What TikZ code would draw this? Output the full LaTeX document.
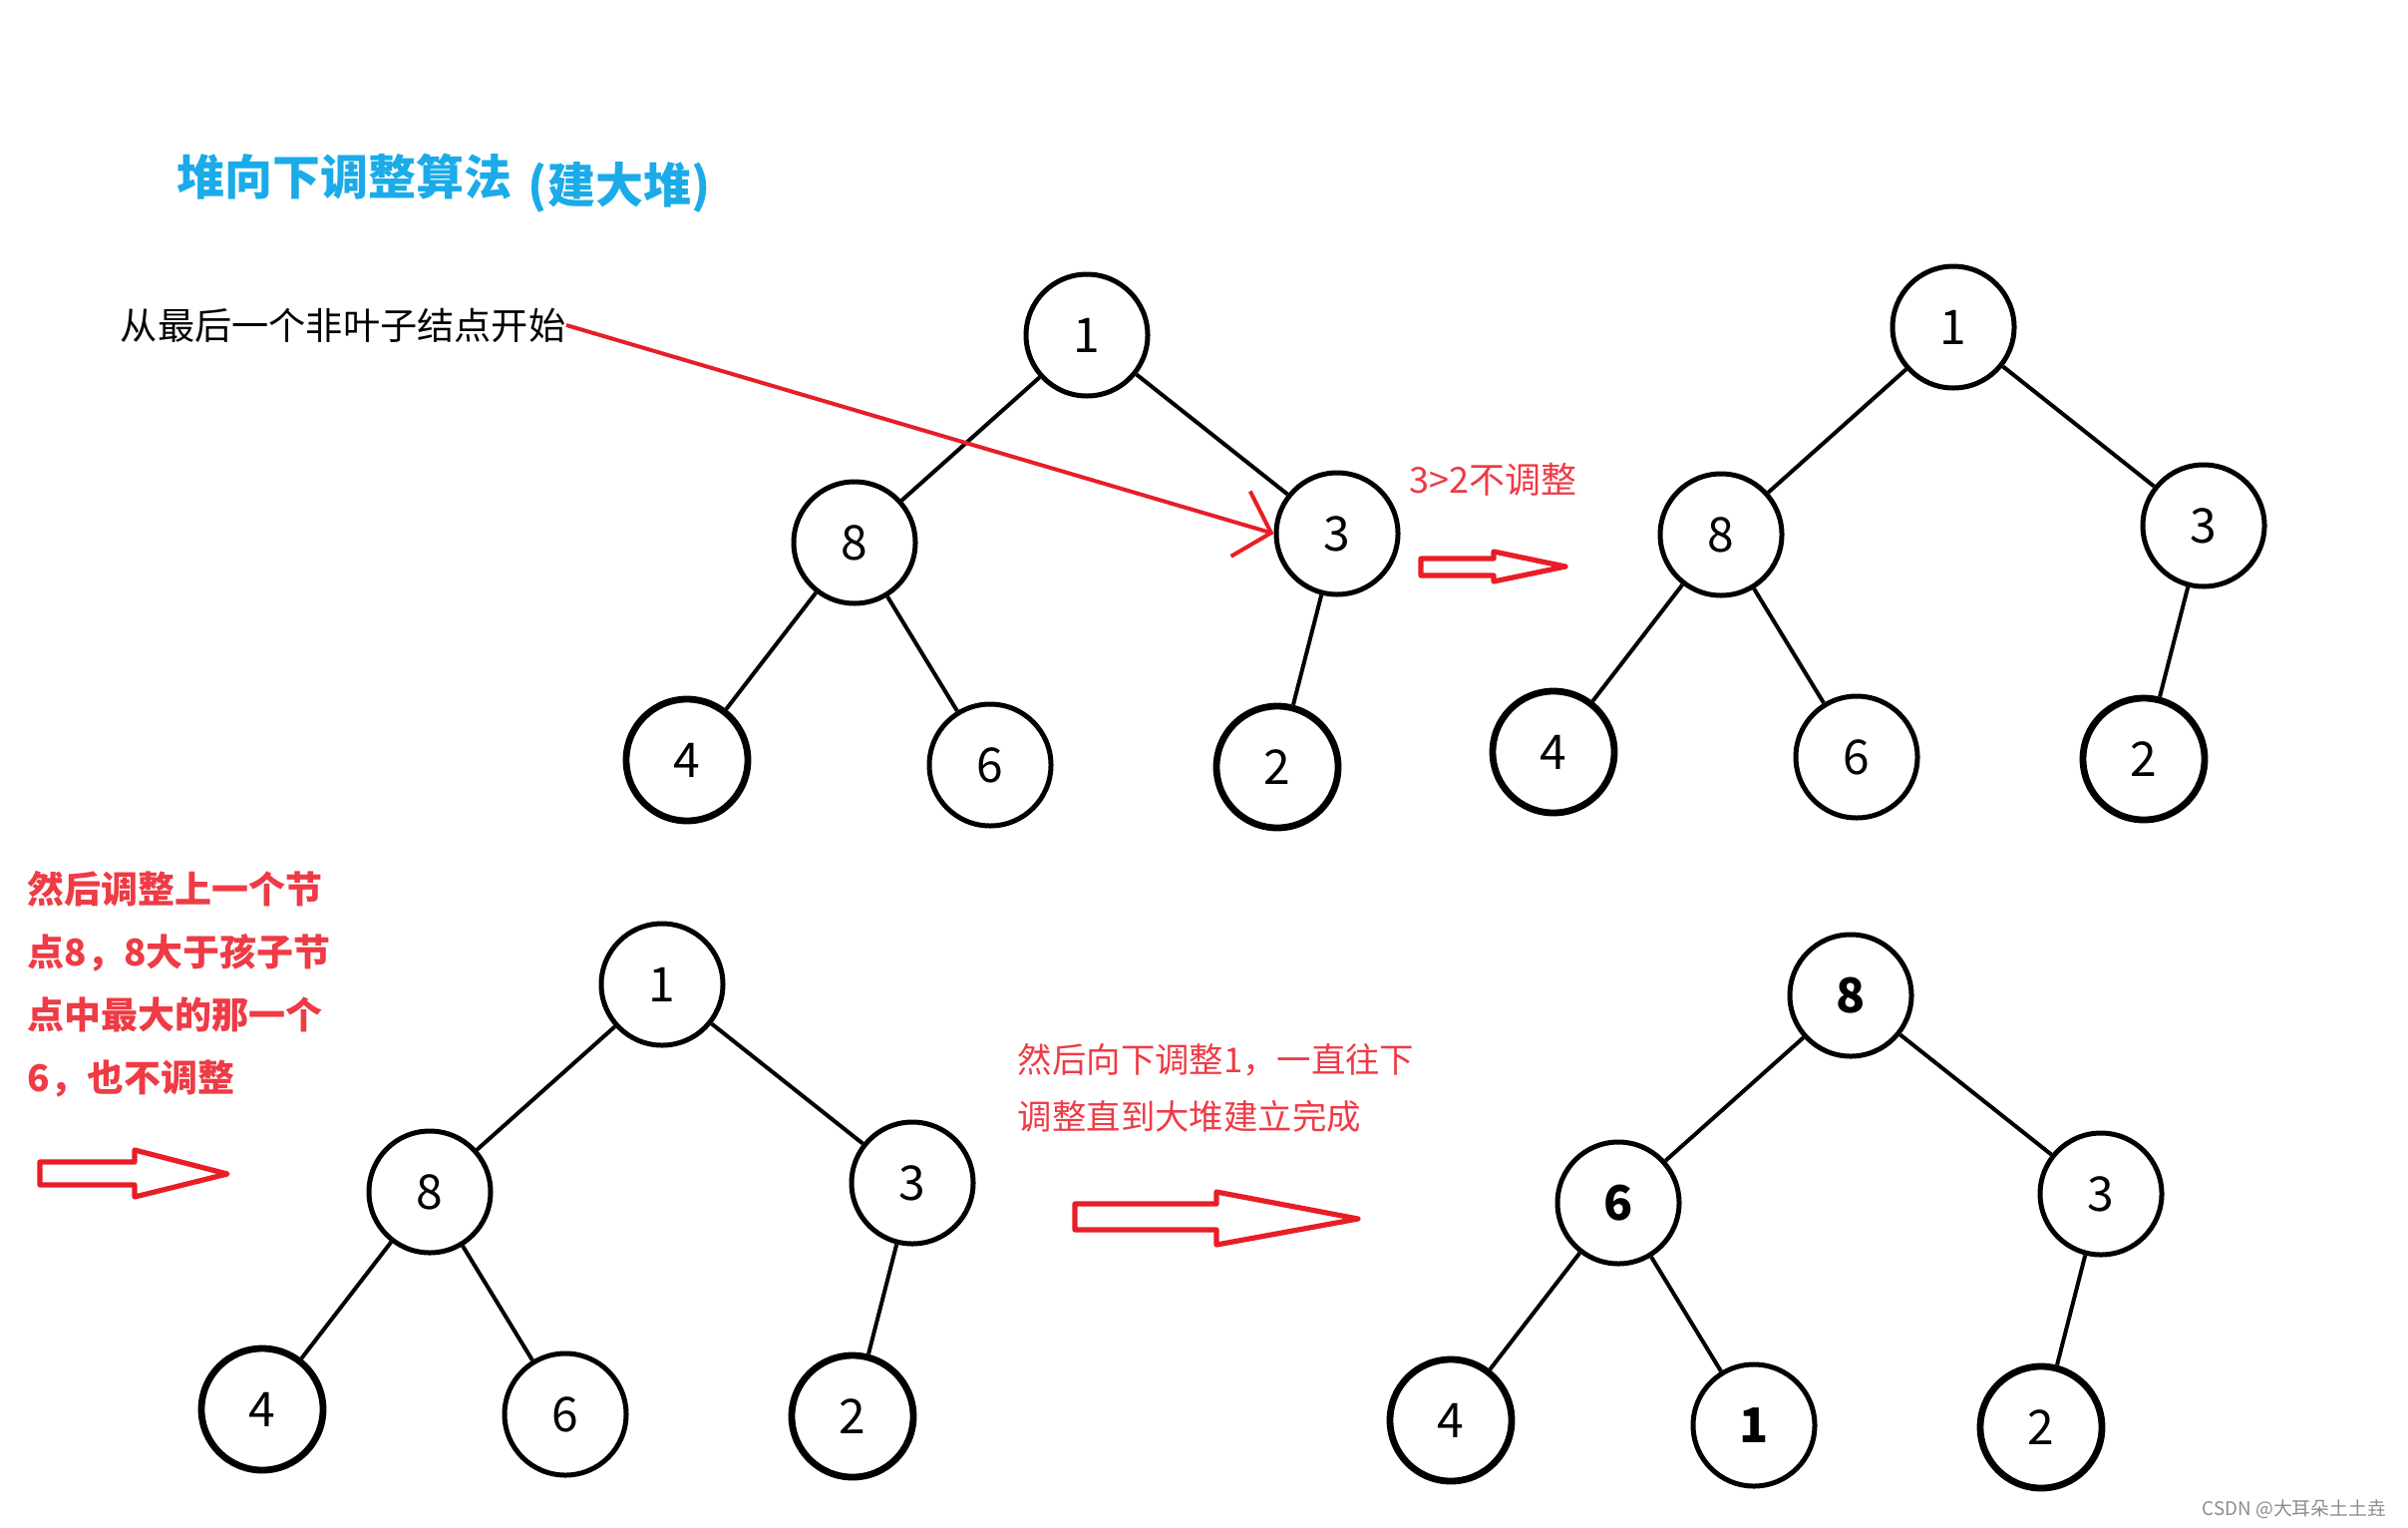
\documentclass[tikz,border=0pt]{standalone}
\usepackage{fontspec}
\setmainfont{Noto Sans CJK SC}
\usepackage{xcolor}
\definecolor{heapblue}{HTML}{1AABE8}
\definecolor{notered}{HTML}{EE3B45}
\definecolor{arrowred}{HTML}{E81E26}
\usetikzlibrary{arrows.meta}
\tikzset{
  hnode/.style ={circle, draw=black, line width=1.25pt, minimum size=30.5pt,
                 inner sep=0pt, font=\fontsize{12}{12}\selectfont},
  hleaf/.style ={hnode, line width=1.7pt},
  hbold/.style ={font=\fontsize{12}{12}\selectfont\bfseries},
  hedge/.style ={line width=1pt},
  title/.style ={text=heapblue, anchor=west, inner sep=0pt,
                 font=\fontsize{12}{14}\selectfont\bfseries},
  note/.style  ={anchor=west, align=left, inner sep=0pt},
  bignote/.style={note, text=notered, font=\fontsize{9.25}{15.7}\selectfont\bfseries},
  midnote/.style={note, text=notered, font=\fontsize{8.6}{14.25}\selectfont},
  bigarr/.style={draw=arrowred, line width=1.3pt, line join=round},
  pointer/.style={draw=arrowred, line width=1pt,
                  -{Straight Barb[length=8pt,width=17pt]}},
}

\begin{document}
\begin{tikzpicture}[x=0.25pt, y=-0.25pt]
  \useasboundingbox (0,0) rectangle (2415,1531);

  % heading
  \node[title] (head) at (177,177) {堆向下调整算法};
  \node[title] (headsub) at (529,188) {(建大堆)};
  \node[note, font=\fontsize{9.3}{12}\selectfont] (start) at (120,326) {从最后一个非叶子结点开始};

  % tree 1
  \begin{scope}[shift={(1090,336)}]
    \node[hnode] (a1) at (0,0)       {1};
    \node[hnode] (a8) at (-233,208)  {8};
    \node[hnode] (a3) at (251,199)   {3};
    \node[hleaf] (a4) at (-401,426)  {4};
    \node[hnode] (a6) at (-97,431)   {6};
    \node[hleaf] (a2) at (191,433)   {2};
  \end{scope}
  \draw[hedge] (a1) -- (a8) (a1) -- (a3) (a8) -- (a4) (a8) -- (a6) (a3) -- (a2);
  \draw[pointer] (start.east) -- (a3.west);
  \node[note, text=notered, font=\fontsize{9}{12}\selectfont] (nochange) at (1413,481) {3>2不调整};
  \draw[bigarr] (1425,560) -- (1498,560) -- (1498,553) -- (1570,568)
    -- (1498,583) -- (1498,577) -- (1425,577) -- cycle;

  % tree 2
  \begin{scope}[shift={(1959,328)}]
    \node[hnode] (b1) at (0,0)       {1};
    \node[hnode] (b8) at (-233,208)  {8};
    \node[hnode] (b3) at (251,199)   {3};
    \node[hleaf] (b4) at (-401,426)  {4};
    \node[hnode] (b6) at (-97,431)   {6};
    \node[hleaf] (b2) at (191,433)   {2};
  \end{scope}
  \draw[hedge] (b1) -- (b8) (b1) -- (b3) (b8) -- (b4) (b8) -- (b6) (b3) -- (b2);

  % step 2
  \node[bignote] (stepeight) at (27,987) {然后调整上一个节\\点8，8大于孩子节\\点中最大的那一个\\6，也不调整};
  \draw[bigarr] (40,1165) -- (135,1165) -- (135,1153) -- (228,1177)
    -- (135,1200) -- (135,1188) -- (40,1188) -- cycle;

  % tree 3
  \begin{scope}[shift={(664,987)}]
    \node[hnode] (c1) at (0,0)       {1};
    \node[hnode] (c8) at (-233,208)  {8};
    \node[hnode] (c3) at (251,199)   {3};
    \node[hleaf] (c4) at (-401,426)  {4};
    \node[hnode] (c6) at (-97,431)   {6};
    \node[hleaf] (c2) at (191,433)   {2};
  \end{scope}
  \draw[hedge] (c1) -- (c8) (c1) -- (c3) (c8) -- (c4) (c8) -- (c6) (c3) -- (c2);

  % step 3
  \node[midnote] (stepone) at (1020,1091) {然后向下调整1，一直往下\\调整直到大堆建立完成};
  \draw[bigarr] (1078,1207) -- (1220,1207) -- (1220,1195) -- (1362,1222)
    -- (1220,1248) -- (1220,1233) -- (1078,1233) -- cycle;

  % tree 4
  \begin{scope}[shift={(1856,998)}]
    \node[hnode, hbold] (d8) at (0,0)       {8};
    \node[hnode, hbold] (d6) at (-233,208)  {6};
    \node[hnode]        (d3) at (251,199)   {3};
    \node[hleaf]        (d4) at (-401,426)  {4};
    \node[hnode, hbold] (d1) at (-97,431)   {1};
    \node[hleaf]        (d2) at (191,433)   {2};
  \end{scope}
  \draw[hedge] (d8) -- (d6) (d8) -- (d3) (d6) -- (d4) (d6) -- (d1) (d3) -- (d2);

  \node[note, text=black!45, font=\fontsize{4.7}{5}\selectfont] (mark) at (2208,1513) {CSDN @大耳朵土土垚};
\end{tikzpicture}
\end{document}
